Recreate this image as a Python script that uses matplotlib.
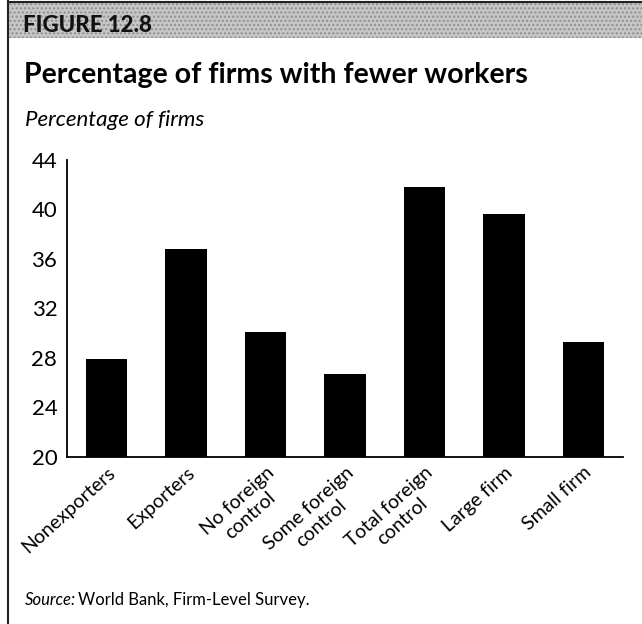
import matplotlib
matplotlib.use("Agg")
import matplotlib.pyplot as plt
from matplotlib.patches import Rectangle
from matplotlib.lines import Line2D

categories = ["Nonexporters", "Exporters", "No foreign\ncontrol", "Some foreign\ncontrol",
              "Total foreign\ncontrol", "Large firm", "Small firm"]
values = [27.9, 36.8, 30.1, 26.7, 41.8, 39.6, 29.3]
y_ticks = [20, 24, 28, 32, 36, 40, 44]

FONT = "Lato"
W, H = 642, 624
fig = plt.figure(figsize=(W / 100, H / 100), dpi=100)
fig.patch.set_facecolor("white")

def fx(px):
    return px / W

def fy(py):
    return 1 - py / H

# header band with stippled grey
band = Rectangle((fx(8), fy(38)), 1 - fx(8), fy(2) - fy(38), transform=fig.transFigure,
                 facecolor="#c6c6c6", edgecolor="#8e8e8e", hatch="....", linewidth=0, zorder=0)
fig.patches.append(band)
fig.lines.append(Line2D([fx(8), 1], [fy(1.5), fy(1.5)], transform=fig.transFigure,
                        color="#222222", linewidth=1.5))
fig.lines.append(Line2D([fx(8), fx(8)], [0, 1], transform=fig.transFigure,
                        color="#222222", linewidth=1.5))

fig.text(fx(23), fy(26), "FIGURE 12.8", family=FONT, fontweight="black", fontsize=16,
         va="center", ha="left", color="#111111")
fig.text(fx(24), fy(75), "Percentage of firms with fewer workers", family=FONT,
         fontweight="bold", fontsize=20.5, va="center", ha="left", color="black")
fig.text(fx(25), fy(120), "Percentage of firms", family=FONT, style="italic",
         fontsize=16, va="center", ha="left", color="black")
fig.text(fx(25), fy(600), "Source:", family=FONT, style="italic", fontsize=12,
         va="center", ha="left", color="black")
fig.text(fx(78), fy(600), "World Bank, Firm-Level Survey.", family=FONT, fontsize=12,
         va="center", ha="left", color="black")

ax = fig.add_axes([fx(67), fy(457), fx(623) - fx(67), fy(160) - fy(457)])
x = list(range(len(categories)))
ax.bar(x, [v - 20 for v in values], bottom=20, width=0.52, color="black")
ax.set_xlim(-0.5, len(categories) - 0.5)
ax.set_ylim(20, 44)
ax.set_yticks(y_ticks)
ax.set_yticklabels([str(t) for t in y_ticks], family=FONT, fontsize=16)
ax.set_xticks(x)
ax.set_xticklabels(categories, family=FONT, fontsize=14, rotation=42,
                   ha="right", rotation_mode="anchor", multialignment="center")
ax.tick_params(axis="y", length=0, pad=7)
ax.tick_params(axis="x", length=0, pad=5)
for s in ["top", "right"]:
    ax.spines[s].set_visible(False)
for s in ["left", "bottom"]:
    ax.spines[s].set_linewidth(1.3)

fig.savefig("out.png", dpi=100, facecolor="white")
